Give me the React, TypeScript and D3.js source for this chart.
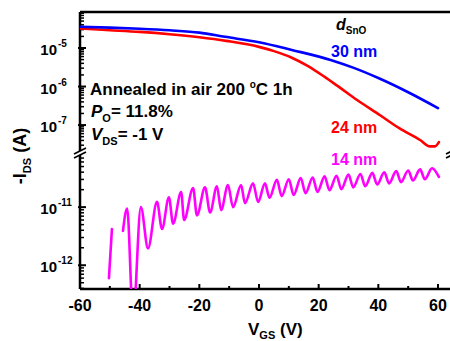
import React from "react";
import * as d3 from "d3";

// Gate voltage (V) and |I_DS| (A) for each SnO thickness
const blueV = [-60, -50, -40, -30, -20, -11.4, 0, 11, 24, 32, 40, 50, 60];
const blueI = [3.55e-5, 3.39e-5, 3.16e-5, 2.88e-5, 2.51e-5, 1.95e-5, 1.41e-5, 8.9e-6, 4.9e-6, 3.0e-6, 1.66e-6, 7.1e-7, 2.75e-7];

const redV = [-60, -50, -40, -30, -20, -11, 0, 5, 11, 16, 22, 27, 33, 40.6, 47, 54, 57.3, 59, 60.3];
const redI = [3.2e-5, 2.9e-5, 2.62e-5, 2.28e-5, 1.9e-5, 1.53e-5, 1.07e-5, 8.3e-6, 5.6e-6, 3.55e-6, 1.78e-6, 9.5e-7, 4.4e-7, 1.8e-7, 8.3e-8, 4.1e-8, 2.8e-8, 2.8e-8, 3.6e-8];

const magAV = [-50.3, -49.3];
const magAI = [6.0e-13, 4.2e-12];

const magBV = [-45.6, -44.2, -42.2, -39.6, -37.2, -34.2, -32.5, -30.2, -28.8, -26.1, -25.1, -22.1, -20.8, -18.1, -16.4, -14.1, -12.7, -10.4, -8.7, -6.0, -4.7, -2.0, -0.3, 2.0, 3.5, 6.0, 7.6, 10.0, 11.6, 14.0, 15.6, 18.0, 19.6, 22.0, 23.6, 26.0, 27.6, 30.0, 31.6, 34.0, 35.6, 38.0, 39.6, 42.0, 43.6, 46.0, 47.6, 50.0, 51.6, 54.0, 55.6, 58.0, 60.3];
const magBI = [3.9e-12, 9.5e-12, 1.26e-13, 1.0e-11, 1.95e-12, 1.23e-11, 4.2e-12, 1.48e-11, 5.2e-12, 1.82e-11, 6.0e-12, 2.14e-11, 7.2e-12, 2.19e-11, 8.1e-12, 2.29e-11, 8.9e-12, 2.4e-11, 1.0e-11, 2.4e-11, 1.17e-11, 2.57e-11, 1.23e-11, 2.57e-11, 1.45e-11, 2.95e-11, 1.55e-11, 3.02e-11, 1.62e-11, 3.16e-11, 1.74e-11, 3.24e-11, 1.82e-11, 3.39e-11, 1.95e-11, 3.47e-11, 2.04e-11, 3.63e-11, 2.19e-11, 3.72e-11, 2.29e-11, 3.89e-11, 2.45e-11, 3.98e-11, 2.57e-11, 4.17e-11, 2.69e-11, 4.27e-11, 2.88e-11, 4.47e-11, 3.02e-11, 4.68e-11, 3.31e-11];

const xTicks = [-60, -40, -20, 0, 20, 40, 60];
const xMinor = [-50, -30, -10, 10, 30, 50];
const upperTicks = [1e-5, 1e-6, 1e-7];
const upperExp = ["-5", "-6", "-7"];
const lowerTicks = [1e-11, 1e-12];
const lowerExp = ["-11", "-12"];

const FONT = "Liberation Sans, Arial, sans-serif";

export default function App() {
  const x = d3.scaleLinear().domain([-60, 60]).range([80, 438]);
  const yUp = d3.scaleLog().domain([2e-8, 8.6e-5]).range([152, 12]);
  const yLo = d3.scaleLog().domain([3.9e-13, 7.9e-11]).range([289, 155]);

  const zip = (a: number[], b: number[]) => a.map((v, i) => [v, b[i]] as [number, number]);
  const lineUp = d3.line<[number, number]>().x((d) => x(d[0])).y((d) => yUp(d[1])).curve(d3.curveMonotoneX);
  const lineLo = d3.line<[number, number]>().x((d) => x(d[0])).y((d) => yLo(d[1])).curve(d3.curveMonotoneX);

  const minorUp: number[] = [];
  for (let e = -8; e <= -5; e++) for (let m = 2; m <= 9; m++) {
    const v = m * Math.pow(10, e);
    if (v >= 2e-8 && v <= 8.6e-5) minorUp.push(v);
  }
  const minorLo: number[] = [];
  for (let e = -13; e <= -11; e++) for (let m = 2; m <= 9; m++) {
    const v = m * Math.pow(10, e);
    if (v >= 3.9e-13 && v <= 7.9e-11) minorLo.push(v);
  }

  const left = 80, bottom = 289, top = 12, right = 452;
  const breakY = 153;

  return (
    <svg width={450} height={341} style={{ position: "absolute", left: 0, top: 0, background: "#fff" }} fontFamily={FONT}>
      <defs>
        <clipPath id="loClip"><rect x={left} y={156} width={right - left} height={bottom - 156} /></clipPath>
        <clipPath id="upClip"><rect x={left} y={top} width={right - left} height={breakY - top - 1} /></clipPath>
      </defs>
      {/* frame */}
      <line x1={left} x2={right} y1={top} y2={top} stroke="#000" strokeWidth={2.5} />
      <line x1={left} x2={right} y1={bottom} y2={bottom} stroke="#000" strokeWidth={2.5} />
      <line x1={left} x2={left} y1={top} y2={bottom} stroke="#000" strokeWidth={2.5} />
      <line x1={right} x2={right} y1={top} y2={bottom} stroke="#000" strokeWidth={2.5} />

      {/* x ticks */}
      {xTicks.map((t) => (
        <g key={"xt" + t}>
          <line x1={x(t)} x2={x(t)} y1={bottom} y2={bottom - 5} stroke="#000" strokeWidth={2} />
          <text x={x(t)} y={311} textAnchor="middle" fontSize={16} fontWeight="bold">{t}</text>
        </g>
      ))}
      {xMinor.map((t) => (
        <line key={"xm" + t} x1={x(t)} x2={x(t)} y1={bottom} y2={bottom - 3} stroke="#000" strokeWidth={2} />
      ))}

      {/* y ticks upper */}
      {upperTicks.map((t, i) => (
        <g key={"yu" + i}>
          <line x1={left - 2} x2={left + 6} y1={yUp(t)} y2={yUp(t)} stroke="#000" strokeWidth={2} />
          <text x={57} y={yUp(t) + 7} textAnchor="end" fontSize={15} fontWeight="bold">10</text>
          <text x={58} y={yUp(t) - 1} textAnchor="start" fontSize={10} fontWeight="bold">{upperExp[i]}</text>
        </g>
      ))}
      {minorUp.map((t, i) => (
        <line key={"ym" + i} x1={left} x2={left + 4} y1={yUp(t)} y2={yUp(t)} stroke="#000" strokeWidth={1.5} />
      ))}
      {lowerTicks.map((t, i) => (
        <g key={"yl" + i}>
          <line x1={left - 2} x2={left + 6} y1={yLo(t)} y2={yLo(t)} stroke="#000" strokeWidth={2} />
          <text x={57} y={yLo(t) + 7} textAnchor="end" fontSize={15} fontWeight="bold">10</text>
          <text x={58} y={yLo(t) - 1} textAnchor="start" fontSize={10} fontWeight="bold">{lowerExp[i]}</text>
        </g>
      ))}
      {minorLo.map((t, i) => (
        <line key={"ylm" + i} x1={left} x2={left + 4} y1={yLo(t)} y2={yLo(t)} stroke="#000" strokeWidth={1.5} />
      ))}

      {/* axis breaks */}
      {[left, right].map((bx) => (
        <g key={"br" + bx}>
          <rect x={bx - 6} y={breakY - 2} width={12} height={4} fill="#fff" />
          <line x1={bx - 6} x2={bx + 6} y1={breakY + 1} y2={breakY - 5} stroke="#000" strokeWidth={1.8} />
          <line x1={bx - 6} x2={bx + 6} y1={breakY + 5} y2={breakY - 1} stroke="#000" strokeWidth={1.8} />
        </g>
      ))}

      {/* curves */}
      <g clipPath="url(#upClip)" fill="none" strokeWidth={2.6} strokeLinejoin="round" strokeLinecap="round">
        <path d={lineUp(zip(redV, redI)) || ""} stroke="#ff0000" />
        <path d={lineUp(zip(blueV, blueI)) || ""} stroke="#0000ff" />
      </g>
      <g clipPath="url(#loClip)" fill="none" strokeWidth={2.6} strokeLinejoin="round" strokeLinecap="round" stroke="#ff00ff">
        <path d={lineLo(zip(magAV, magAI)) || ""} />
        <path d={lineLo(zip(magBV, magBI)) || ""} />
      </g>

      {/* annotations */}
      <g fontWeight="bold" fontSize={17} fill="#000">
        <text x={90} y={95}>Annealed in air 200 <tspan fontSize={10} dy={-7}>o</tspan><tspan dy={7}>C 1h</tspan></text>
        <text x={91} y={117}><tspan fontStyle="italic">P</tspan><tspan fontSize={11} dy={5}>O</tspan><tspan dy={-5}>= 11.8%</tspan></text>
        <text x={91} y={140}><tspan fontStyle="italic">V</tspan><tspan fontSize={11} dy={5}>DS</tspan><tspan dy={-5}>= -1 V</tspan></text>
      </g>
      <g fontWeight="bold" fontSize={16}>
        <text x={336} y={30} fill="#000"><tspan fontStyle="italic">d</tspan><tspan fontSize={10} dy={4}>SnO</tspan></text>
        <text x={331} y={57} fill="#0000ff">30 nm</text>
        <text x={331} y={133} fill="#ff0000">24 nm</text>
        <text x={331} y={165} fill="#ff00ff">14 nm</text>
      </g>

      {/* axis titles */}
      <text x={248} y={335} fontWeight="bold" fontSize={17}>V<tspan fontSize={11} dy={4}>GS</tspan><tspan dy={-4}> (V)</tspan></text>
      <text transform="translate(26,156) rotate(-90)" textAnchor="middle" fontWeight="bold" fontSize={18}>-I<tspan fontSize={11} dy={5}>DS</tspan><tspan dy={-5}> (A)</tspan></text>
    </svg>
  );
}
